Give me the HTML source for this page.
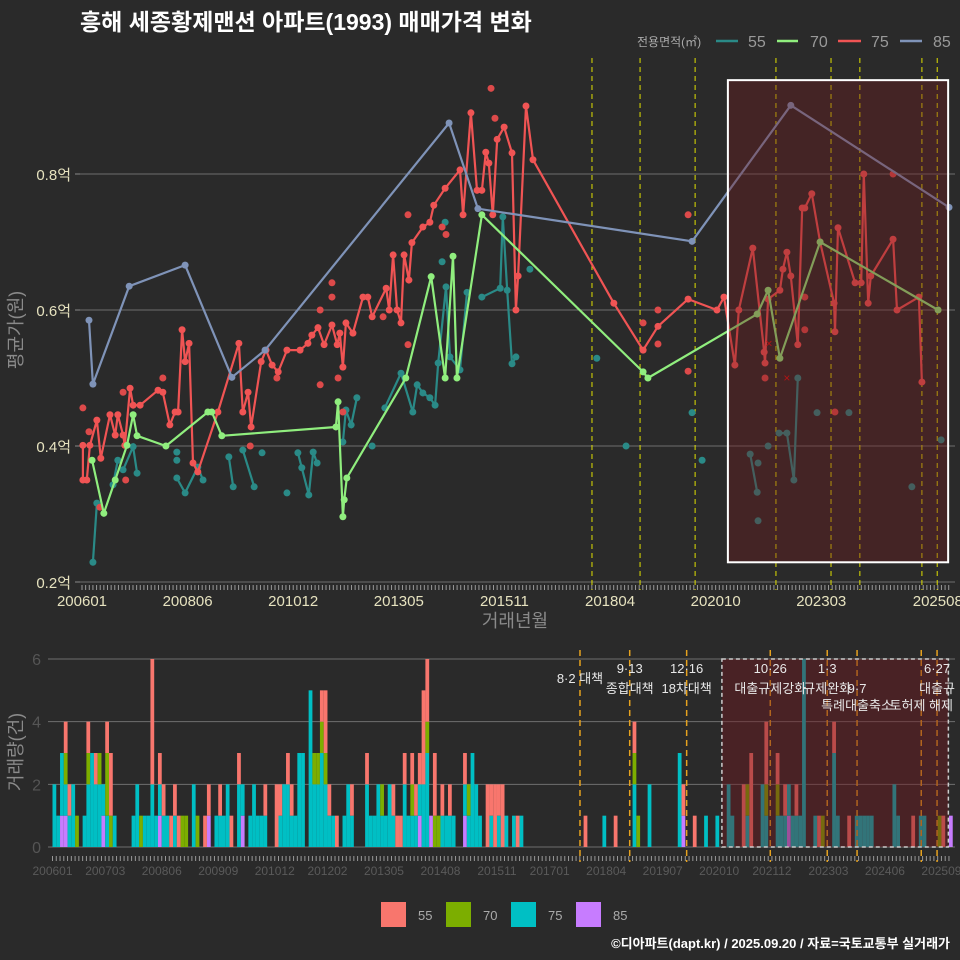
<!DOCTYPE html>
<html><head><meta charset="utf-8">
<style>
html,body{margin:0;padding:0;background:#2a2a2a;}
svg{display:block;font-family:"Liberation Sans","Noto Sans CJK KR",sans-serif;}
</style></head>
<body>
<svg id="chart" width="960" height="960" viewBox="0 0 960 960" xmlns="http://www.w3.org/2000/svg">
<rect width="960" height="960" fill="#2a2a2a"/>
<text x="80" y="30" fill="#ffffff" font-size="23" font-weight="bold">흥해 세종황제맨션 아파트(1993) 매매가격 변화</text>
<g id="top-legend">
<text x="637" y="46" fill="#aaaaaa" font-size="12">전용면적(㎡)</text>
<line x1="716" y1="41" x2="738" y2="41" stroke="#2a8a87" stroke-width="2.5"/>
<text x="748" y="47" fill="#999" font-size="16">55</text>
<line x1="777" y1="41" x2="798" y2="41" stroke="#90ee7e" stroke-width="2.5"/>
<text x="810" y="47" fill="#999" font-size="16">70</text>
<line x1="838" y1="41" x2="861" y2="41" stroke="#f05454" stroke-width="2.5"/>
<text x="871" y="47" fill="#999" font-size="16">75</text>
<line x1="900" y1="41" x2="922" y2="41" stroke="#7f93b8" stroke-width="2.5"/>
<text x="933" y="47" fill="#999" font-size="16">85</text>
</g>
<text transform="translate(22,330) rotate(-90)" text-anchor="middle" fill="#8a8a8a" font-size="18">평균가(원)</text>
<text x="515" y="627" text-anchor="middle" fill="#8a8a8a" font-size="18">거래년월</text>
<text transform="translate(22,752) rotate(-90)" text-anchor="middle" fill="#8a8a8a" font-size="18">거래량(건)</text>
<g id="topPanel"></g>
<g id="botPanel"></g>
<g id="bottom-legend">
<rect x="381" y="902" width="25" height="25" fill="#f8766d"/>
<text x="418" y="920" fill="#aaa" font-size="13">55</text>
<rect x="446" y="902" width="25" height="25" fill="#7cae00"/>
<text x="483" y="920" fill="#aaa" font-size="13">70</text>
<rect x="511" y="902" width="25" height="25" fill="#00bfc4"/>
<text x="548" y="920" fill="#aaa" font-size="13">75</text>
<rect x="576" y="902" width="25" height="25" fill="#c77cff"/>
<text x="613" y="920" fill="#aaa" font-size="13">85</text>
</g>
<text x="950" y="948" text-anchor="end" fill="#ffffff" font-size="13" font-weight="bold">©디아파트(dapt.kr) / 2025.09.20 / 자료=국토교통부 실거래가</text>
</svg>
<script>
// ---- price chart data ----
const s85Years=[2006.16,2006.25,2007.08,2008.36,2009.43,2010.19,2014.40,2015.06,2019.96,2022.22,2025.84];
const s85Vals=[0.585,0.491,0.635,0.666,0.501,0.541,0.875,0.749,0.701,0.901,0.751];
const s70Years=[2006.23,2006.50,2006.76,2007.03,2007.17,2007.26,2007.92,2008.88,2008.97,2009.20,2011.81,2011.86,2011.97,2012.00,2012.06,2013.41,2013.99,2014.31,2014.49,2014.58,2015.15,2018.84,2018.95,2021.45,2021.70,2021.97,2022.89,2025.59];
const s70Vals=[0.379,0.301,0.350,0.401,0.446,0.415,0.400,0.450,0.450,0.415,0.428,0.465,0.296,0.321,0.353,0.500,0.649,0.500,0.679,0.500,0.740,0.509,0.500,0.594,0.629,0.529,0.700,0.600];
const s75Years=[2006.02,2006.02,2006.11,2006.18,2006.34,2006.43,2006.64,2006.76,2006.82,2006.94,2006.98,2007.10,2007.17,2007.33,2007.74,2007.85,2008.01,2008.13,2008.20,2008.29,2008.36,2008.45,2008.54,2008.65,2009.11,2009.59,2009.68,2009.80,2009.87,2010.10,2010.21,2010.35,2010.49,2010.69,2010.99,2011.17,2011.26,2011.40,2011.54,2011.72,2011.84,2011.90,2011.97,2012.04,2012.20,2012.43,2012.54,2012.64,2012.96,2013.03,2013.12,2013.21,2013.30,2013.37,2013.48,2013.55,2013.80,2013.96,2014.05,2014.31,2014.65,2014.72,2014.90,2015.04,2015.15,2015.24,2015.31,2015.40,2015.50,2015.66,2015.84,2015.93,2015.98,2016.16,2016.32,2018.17,2018.84,2019.18,2019.87,2020.53,2020.69,2020.94,2021.03,2021.35,2021.61,2021.63,2021.70,2021.97,2022.04,2022.13,2022.22,2022.38,2022.48,2022.54,2022.70,2022.89,2023.21,2023.23,2023.30,2023.69,2023.83,2023.89,2023.99,2024.05,2024.56,2024.65,2025.15,2025.22];
const s75Vals=[0.401,0.350,0.350,0.401,0.438,0.382,0.446,0.416,0.446,0.416,0.401,0.485,0.460,0.460,0.482,0.479,0.431,0.450,0.450,0.571,0.524,0.551,0.375,0.362,0.450,0.551,0.450,0.479,0.428,0.524,0.541,0.519,0.509,0.541,0.541,0.551,0.563,0.574,0.549,0.578,0.549,0.566,0.516,0.581,0.566,0.619,0.619,0.590,0.632,0.600,0.681,0.600,0.581,0.681,0.644,0.699,0.722,0.729,0.754,0.779,0.806,0.740,0.890,0.776,0.776,0.832,0.816,0.740,0.851,0.869,0.831,0.600,0.650,0.900,0.821,0.610,0.541,0.576,0.616,0.600,0.619,0.519,0.600,0.691,0.538,0.522,0.616,0.629,0.660,0.685,0.650,0.549,0.750,0.750,0.771,0.700,0.610,0.568,0.721,0.640,0.640,0.800,0.610,0.650,0.704,0.600,0.619,0.494];
const s75DotYears=[2006.02,2015.36,2015.45,2013.46,2014.24,2014.33,2011.72,2011.72,2011.45,2011.45,2011.86,2007.85,2009.85,2007.00,2006.41,2010.46,2013.46,2012.89,2011.97,2006.94,2006.16,2019.87,2019.18,2019.18,2018.84,2019.87,2021.63,2023.23,2024.56,2022.54,2022.54];
const s75DotVals=[0.456,0.926,0.882,0.740,0.722,0.711,0.640,0.619,0.600,0.490,0.500,0.500,0.400,0.350,0.310,0.500,0.549,0.590,0.450,0.479,0.421,0.740,0.600,0.550,0.581,0.510,0.500,0.450,0.800,0.619,0.571];
const s55Years=[2006.25,2006.34,2006.71,2006.82,2006.94,2007.17,2007.26,2008.17,2008.17,2008.17,2008.36,2008.65,2008.77,2009.36,2009.46,2009.68,2009.94,2010.12,2010.69,2010.94,2011.03,2011.19,2011.29,2011.38,2011.97,2012.04,2012.16,2012.29,2012.64,2012.93,2013.30,2013.57,2013.67,2013.80,2013.96,2014.08,2014.15,2014.33,2014.42,2014.65,2014.81,2014.31,2014.24,2015.15,2015.57,2015.63,2015.73,2015.84,2015.93,2016.25,2017.78,2018.45,2019.96,2020.19,2021.29,2021.45,2021.47,2021.47,2021.70,2021.95,2022.13,2022.29,2022.38,2022.82,2023.55,2024.99,2025.66];
const s55Vals=[0.229,0.316,0.343,0.379,0.365,0.399,0.360,0.391,0.379,0.353,0.331,0.369,0.350,0.384,0.340,0.394,0.340,0.390,0.331,0.390,0.368,0.328,0.391,0.375,0.406,0.453,0.431,0.471,0.400,0.456,0.507,0.450,0.490,0.478,0.471,0.460,0.522,0.634,0.531,0.512,0.626,0.729,0.671,0.619,0.632,0.737,0.629,0.521,0.531,0.660,0.529,0.400,0.449,0.379,0.388,0.332,0.375,0.290,0.400,0.419,0.419,0.350,0.500,0.449,0.449,0.340,0.409];
const s55Groups=[1,1,2,2,3,3,3,4,5,6,6,6,6,7,7,8,8,9,10,11,11,11,11,11,12,12,12,12,13,14,14,14,14,14,14,14,14,14,14,14,14,15,16,17,17,17,17,17,17,18,19,20,21,22,23,23,24,25,26,27,27,27,27,28,29,30,31];
const crossYears=[2021.72,2022.13];
const crossVals=[0.551,0.500];
const policyYears=[2017.67,2018.77,2020.03,2021.88,2023.14,2023.80,2025.22,2025.57];
const priceTicks=[0.2,0.4,0.6,0.8];
const priceTickLabels=['0.2억','0.4억','0.6억','0.8억'];
const topXLabels=['200601','200806','201012','201305','201511','201804','202010','202303','202508'];
const topXMonths=[0,29,58,87,116,145,174,203,235];
// ---- volume chart data ----
const barMonths=[0,1,2,3,4,5,6,8,9,10,11,12,13,14,15,16,21,22,23,24,25,26,27,28,29,30,31,32,33,34,35,37,38,40,41,43,44,45,46,47,49,50,52,53,54,55,56,59,60,61,62,63,64,65,66,68,69,70,71,72,73,74,75,77,78,79,83,84,85,86,87,88,89,90,91,92,93,94,95,96,97,98,99,100,101,102,103,104,105,106,109,110,111,112,113,115,116,117,118,119,120,122,123,124,141,146,149,154,155,158,166,167,170,173,176,179,180,183,184,185,188,189,192,193,194,195,196,197,198,199,202,203,204,207,208,211,213,214,215,216,217,223,224,228,230,231,235,236,238];
const bar55=[0,0,0,1,1,0,0,0,1,0,1,0,0,1,2,0,0,0,0,0,0,4,0,1,1,0,1,1,1,0,0,0,0,1,1,0,1,0,0,1,1,0,0,0,0,0,1,2,1,0,1,1,0,0,0,0,0,0,1,2,1,0,1,0,0,1,1,0,0,0,0,0,0,1,1,1,1,0,1,1,1,3,2,0,2,0,1,0,1,0,1,0,0,0,0,2,1,2,1,2,0,0,1,0,1,0,1,1,0,0,0,1,1,0,0,0,0,2,0,3,0,2,1,0,1,0,0,1,0,0,0,1,0,1,0,1,0,0,0,0,0,0,0,1,0,0,0,1,0];
const bar70=[0,0,0,1,0,0,1,0,1,0,0,1,0,2,1,0,0,0,1,0,0,0,0,0,0,0,0,0,0,1,1,0,1,0,0,0,0,0,0,0,0,0,0,0,0,0,0,0,0,0,0,0,0,0,0,0,1,1,1,1,0,0,0,0,0,0,0,0,0,0,1,0,0,0,0,0,0,0,1,0,0,0,1,0,1,1,0,0,0,0,0,1,0,0,0,0,0,0,0,0,0,0,0,0,0,0,0,1,1,0,0,0,0,0,0,0,0,0,1,0,0,1,1,0,0,0,0,0,0,0,0,0,1,0,0,0,0,0,0,0,0,0,0,0,0,0,1,0,0];
const bar75=[2,1,2,1,1,2,0,1,2,3,2,2,1,1,0,1,1,2,0,1,1,2,1,1,1,1,0,1,0,0,0,2,0,0,0,1,1,1,2,0,2,1,1,2,1,1,1,0,1,2,2,1,1,3,3,5,2,2,3,2,1,1,0,1,2,1,2,1,1,2,1,1,2,1,0,0,2,1,1,1,1,2,3,0,0,0,1,1,1,1,1,1,3,2,1,0,1,0,1,0,1,1,0,1,0,1,0,2,0,2,3,0,0,1,1,2,1,0,1,0,2,1,1,1,1,1,1,1,1,6,1,0,0,3,1,0,1,1,1,1,1,2,1,0,1,1,0,0,0];
const bar85=[0,0,1,1,0,0,0,0,0,0,0,0,1,0,0,0,0,0,0,0,0,0,0,1,0,0,0,0,0,0,0,0,0,0,1,0,0,0,0,0,0,1,0,0,0,0,0,0,0,0,0,0,0,0,0,0,0,0,0,0,0,0,0,0,0,0,0,0,0,0,0,0,0,0,0,0,0,0,0,0,1,0,0,1,0,0,0,0,0,0,1,0,0,0,0,0,0,0,0,0,0,0,0,0,0,0,0,0,0,0,0,1,0,0,0,0,0,0,0,0,0,0,0,0,0,1,0,0,0,0,0,0,0,0,0,0,0,0,0,0,0,0,0,0,0,0,0,0,1];
const volTicks=[0,2,4,6];
const botXLabels=['200601','200703','200806','200909','201012','201202','201305','201408','201511','201701','201804','201907','202010','202112','202303','202406','202509'];
const botXMonths=[0,14,29,44,59,73,88,103,118,132,147,162,177,191,206,221,236];
const annoText=['8·2 대책','9·13','종합대책','12·16','18차대책','10·26','대출규제강화','1·3','규제완화','9·7','특례대출축소','토허제 해제','6·27','대출규'];
const annoYear=[2017.67,2018.77,2018.77,2020.03,2020.03,2021.88,2021.88,2023.14,2023.14,2023.80,2023.80,2025.22,2025.57,2025.57];
const annoRow=[3,0,1,0,1,0,1,0,1,1,2,2,0,1];

const NS='http://www.w3.org/2000/svg';
function mk(parent,tag,attrs,txt){const e=document.createElementNS(NS,tag);for(const k in attrs)e.setAttribute(k,attrs[k]);if(txt!==undefined)e.textContent=txt;parent.appendChild(e);return e;}
const xT=y=>82+(y-2006)*43.7;
const yT=v=>582-(v-0.2)*680;
const xB=y=>52.5+(y-2006)*45.2;
const yB=n=>847-n*31.33;
const topG=document.getElementById('topPanel');
const botG=document.getElementById('botPanel');

priceTicks.forEach((t,i)=>{
  const g=mk(topG,'line',{x1:80,x2:955,y1:yT(t),y2:yT(t),stroke:'#6f6f6f','stroke-width':1});
  
  
  const tk=mk(topG,'line',{x1:75,x2:80,y1:yT(t),y2:yT(t),stroke:'#888'});
  
  
  const l=mk(topG,'text',{x:71,y:yT(t)+6,'text-anchor':'end',fill:'#e6e2bf','font-size':15},priceTickLabels[i]);
  
  
});
for(let m=0;m<=238;m++){
  const a=mk(topG,'line',{x1:xT(2006+m/12),x2:xT(2006+m/12),y1:585,y2:590,stroke:'#999','stroke-width':1});
  
  
  const b=mk(botG,'line',{x1:xB(2006+m/12),x2:xB(2006+m/12),y1:856,y2:861,stroke:'#999','stroke-width':1});
  
  
}
topXLabels.forEach((s,i)=>{
  const t=mk(topG,'text',{x:xT(2006+topXMonths[i]/12),y:606,'text-anchor':'middle',fill:'#e6e2bf','font-size':15},s);
  
  
});
policyYears.forEach(y=>{
  const l=mk(topG,'line',{x1:xT(y),x2:xT(y),y1:58,y2:590,stroke:'#e0e000','stroke-width':1,'stroke-dasharray':'5,4'});
  
  
});
function series(xs,vs,color,name){
  let d='';xs.forEach((x,i)=>{d+=(i?'L':'M')+xT(x).toFixed(1)+','+yT(vs[i]).toFixed(1);});
  const p=mk(topG,'path',{d:d,fill:'none',stroke:color,'stroke-width':2.2,'stroke-linejoin':'round'});
  
  
  xs.forEach((x,i)=>{
    const c=mk(topG,'circle',{cx:xT(x),cy:yT(vs[i]),r:3.5,fill:color});
    
    
  });
}
const groups={};
s55Years.forEach((x,i)=>{(groups[s55Groups[i]]=groups[s55Groups[i]]||[]).push(i);});
Object.keys(groups).forEach(k=>{
  const idx=groups[k];
  if(idx.length>1){
    let d='';idx.forEach((i,j)=>{d+=(j?'L':'M')+xT(s55Years[i]).toFixed(1)+','+yT(s55Vals[i]).toFixed(1);});
    const p=mk(topG,'path',{d:d,fill:'none',stroke:'#2a8a87','stroke-width':2.2});
    
    
  }
});
s55Years.forEach((x,i)=>{
  const c=mk(topG,'circle',{cx:xT(x),cy:yT(s55Vals[i]),r:3.5,fill:'#2a8a87'});
  
  
});
s75DotYears.forEach((x,i)=>{
  const c=mk(topG,'circle',{cx:xT(x),cy:yT(s75DotVals[i]),r:3.5,fill:'#dd4a4a'});
  
  
});
series(s75Years,s75Vals,'#f05454','series-75');
series(s70Years,s70Vals,'#90ee7e','series-70');
series(s85Years,s85Vals,'#7f93b8','series-85');
crossYears.forEach((x,i)=>{
  const t=mk(topG,'text',{x:xT(x),y:yT(crossVals[i])+4,'text-anchor':'middle',fill:'#dd1111','font-size':12},'×');
  
  
});
const hr=mk(topG,'rect',{x:xT(2020.78),y:yT(0.938),width:xT(2025.82)-xT(2020.78),height:yT(0.229)-yT(0.938),fill:'rgba(110,25,30,0.38)',stroke:'#ffffff','stroke-width':2});



volTicks.forEach(t=>{
  const g=mk(botG,'line',{x1:48,x2:955,y1:yB(t),y2:yB(t),stroke:'#6f6f6f','stroke-width':1});
  
  
  const l=mk(botG,'text',{x:41,y:yB(t)+6,'text-anchor':'end',fill:'#555','font-size':16},String(t));
  
  
});
botXLabels.forEach((s,i)=>{
  const t=mk(botG,'text',{x:xB(2006+botXMonths[i]/12),y:875,'text-anchor':'middle',fill:'#5a5a5a','font-size':12},s);
  
  
});
const bw=3.77;
const cols=[['#c77cff',bar85,'85'],['#00bfc4',bar75,'75'],['#7cae00',bar70,'70'],['#f8766d',bar55,'55']];
barMonths.forEach((m,i)=>{
  let base=0;const cx=xB(2006+m/12)+bw/2;
  cols.forEach(c=>{
    const n=c[1][i];
    if(n>0){
      const r=mk(botG,'rect',{x:cx-bw/2,y:yB(base+n),width:bw,height:yB(base)-yB(base+n),fill:c[0]});
      
      
      base+=n;
    }
  });
});
policyYears.forEach(y=>{
  const l=mk(botG,'line',{x1:xB(y),x2:xB(y),y1:650,y2:862,stroke:'#e6a21e','stroke-width':1.5,'stroke-dasharray':'6,4'});
  
  
});
const br=mk(botG,'rect',{x:xB(2020.81),y:yB(6),width:xB(2025.82)-xB(2020.81),height:yB(0)-yB(6),fill:'rgba(110,25,30,0.45)',stroke:'#cccccc','stroke-width':1.5,'stroke-dasharray':'4,3'});


annoText.forEach((s,i)=>{
  const ys=[673,693,710,683];
  const t=mk(botG,'text',{x:xB(annoYear[i]),y:ys[annoRow[i]],'text-anchor':'middle',fill:'#e8e8e8','font-size':13},s);
  
  
});
</script>
</body></html>
